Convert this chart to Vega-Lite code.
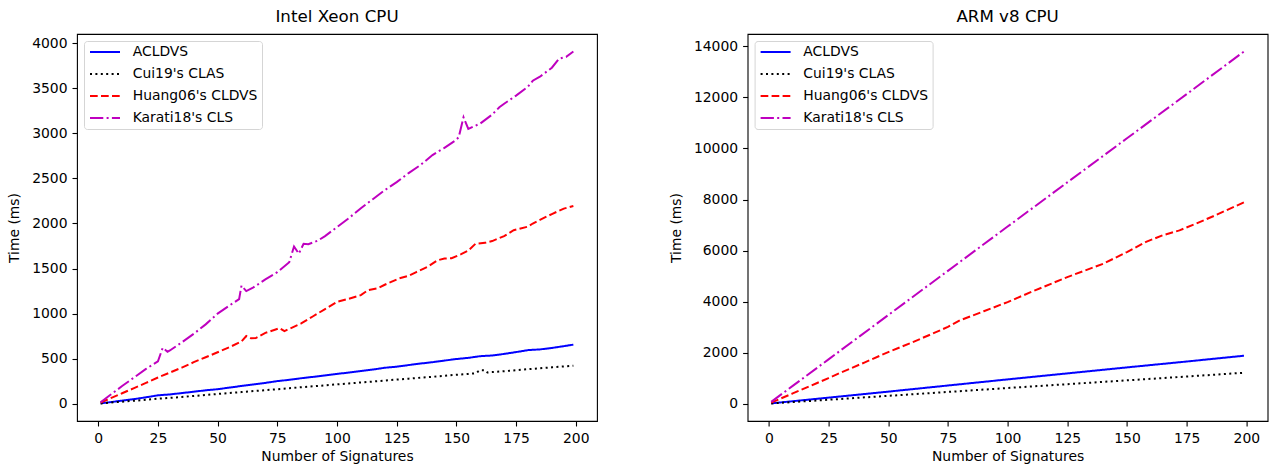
{
"$schema": "https://vega.github.io/schema/vega-lite/v6.json",
"background": "white",
"padding": {"left": 7, "top": 8, "right": 0, "bottom": 0},
"config": {
 "font": "DejaVu Sans",
 "view": {"stroke": "#000", "strokeWidth": 1.1},
 "axis": {"domain": false, "grid": false, "format": "d", "tickColor": "#000", "tickWidth": 1.1, "tickSize": 5, "labelFontSize": 13.9, "labelColor": "#000", "labelPadding": 5, "titleFontSize": 13.9, "titleFontWeight": "normal", "titleColor": "#000", "labelFont": "DejaVu Sans", "titleFont": "DejaVu Sans"},
 "axisY": {"titlePadding": 10},
 "axisX": {"titlePadding": 5},
 "title": {"fontSize": 16.7, "fontWeight": "normal", "color": "#000", "font": "DejaVu Sans", "offset": 8, "anchor": "middle", "baseline": "alphabetic"},
 "legend": {"title": null, "orient": "top-left", "offset": 7, "padding": 4, "symbolType": "M-0.833,0H4.167", "symbolSize": 144, "symbolStrokeWidth": 2, "symbolFillColor": "transparent", "labelFontSize": 13.9, "labelFont": "DejaVu Sans", "labelColor": "#000", "labelOffset": 30.7, "rowPadding": 8, "fillColor": "rgba(255,255,255,0.8)", "strokeColor": "#d5d5d5", "cornerRadius": 3, "labelLimit": 300}
},
"resolve": {"scale": {"color": "independent", "strokeDash": "independent"}, "legend": {"color": "independent", "strokeDash": "independent"}},
"spacing": 150.6,
"bounds": "flush",
"datasets": {
 "intel": [
  {"s":"ACLDVS","n":1,"t":3},{"s":"ACLDVS","n":5,"t":16},{"s":"ACLDVS","n":10,"t":33},{"s":"ACLDVS","n":15,"t":50},{"s":"ACLDVS","n":20,"t":70},{"s":"ACLDVS","n":25,"t":92},{"s":"ACLDVS","n":30,"t":102},{"s":"ACLDVS","n":35,"t":117},{"s":"ACLDVS","n":40,"t":132},{"s":"ACLDVS","n":45,"t":148},{"s":"ACLDVS","n":50,"t":160},{"s":"ACLDVS","n":55,"t":178},{"s":"ACLDVS","n":60,"t":196},{"s":"ACLDVS","n":65,"t":213},{"s":"ACLDVS","n":70,"t":230},{"s":"ACLDVS","n":75,"t":250},{"s":"ACLDVS","n":80,"t":264},{"s":"ACLDVS","n":85,"t":282},{"s":"ACLDVS","n":90,"t":297},{"s":"ACLDVS","n":95,"t":313},{"s":"ACLDVS","n":100,"t":330},{"s":"ACLDVS","n":105,"t":345},{"s":"ACLDVS","n":110,"t":362},{"s":"ACLDVS","n":115,"t":378},{"s":"ACLDVS","n":120,"t":398},{"s":"ACLDVS","n":125,"t":410},{"s":"ACLDVS","n":130,"t":428},{"s":"ACLDVS","n":135,"t":445},{"s":"ACLDVS","n":140,"t":460},{"s":"ACLDVS","n":145,"t":478},{"s":"ACLDVS","n":150,"t":495},{"s":"ACLDVS","n":155,"t":508},{"s":"ACLDVS","n":160,"t":527},{"s":"ACLDVS","n":165,"t":534},{"s":"ACLDVS","n":170,"t":552},{"s":"ACLDVS","n":175,"t":572},{"s":"ACLDVS","n":180,"t":594},{"s":"ACLDVS","n":185,"t":602},{"s":"ACLDVS","n":190,"t":618},{"s":"ACLDVS","n":195,"t":638},{"s":"ACLDVS","n":199,"t":655},
  {"s":"Cui19's CLAS","n":1,"t":2},{"s":"Cui19's CLAS","n":5,"t":11},{"s":"Cui19's CLAS","n":10,"t":22},{"s":"Cui19's CLAS","n":15,"t":32},{"s":"Cui19's CLAS","n":20,"t":43},{"s":"Cui19's CLAS","n":25,"t":55},{"s":"Cui19's CLAS","n":30,"t":64},{"s":"Cui19's CLAS","n":35,"t":74},{"s":"Cui19's CLAS","n":40,"t":85},{"s":"Cui19's CLAS","n":45,"t":96},{"s":"Cui19's CLAS","n":50,"t":107},{"s":"Cui19's CLAS","n":55,"t":118},{"s":"Cui19's CLAS","n":60,"t":128},{"s":"Cui19's CLAS","n":65,"t":139},{"s":"Cui19's CLAS","n":70,"t":150},{"s":"Cui19's CLAS","n":75,"t":160},{"s":"Cui19's CLAS","n":80,"t":171},{"s":"Cui19's CLAS","n":85,"t":182},{"s":"Cui19's CLAS","n":90,"t":192},{"s":"Cui19's CLAS","n":95,"t":203},{"s":"Cui19's CLAS","n":100,"t":214},{"s":"Cui19's CLAS","n":105,"t":224},{"s":"Cui19's CLAS","n":110,"t":235},{"s":"Cui19's CLAS","n":115,"t":245},{"s":"Cui19's CLAS","n":120,"t":256},{"s":"Cui19's CLAS","n":125,"t":267},{"s":"Cui19's CLAS","n":130,"t":277},{"s":"Cui19's CLAS","n":135,"t":288},{"s":"Cui19's CLAS","n":140,"t":298},{"s":"Cui19's CLAS","n":145,"t":309},{"s":"Cui19's CLAS","n":150,"t":320},{"s":"Cui19's CLAS","n":155,"t":330},{"s":"Cui19's CLAS","n":158,"t":337},{"s":"Cui19's CLAS","n":160,"t":372},{"s":"Cui19's CLAS","n":162,"t":370},{"s":"Cui19's CLAS","n":163,"t":346},{"s":"Cui19's CLAS","n":165,"t":350},{"s":"Cui19's CLAS","n":170,"t":360},{"s":"Cui19's CLAS","n":175,"t":371},{"s":"Cui19's CLAS","n":180,"t":382},{"s":"Cui19's CLAS","n":185,"t":392},{"s":"Cui19's CLAS","n":190,"t":403},{"s":"Cui19's CLAS","n":195,"t":413},{"s":"Cui19's CLAS","n":199,"t":420},
  {"s":"Huang06's CLDVS","n":1,"t":12},{"s":"Huang06's CLDVS","n":5,"t":58},{"s":"Huang06's CLDVS","n":10,"t":115},{"s":"Huang06's CLDVS","n":15,"t":172},{"s":"Huang06's CLDVS","n":20,"t":230},{"s":"Huang06's CLDVS","n":25,"t":290},{"s":"Huang06's CLDVS","n":30,"t":345},{"s":"Huang06's CLDVS","n":35,"t":400},{"s":"Huang06's CLDVS","n":40,"t":460},{"s":"Huang06's CLDVS","n":45,"t":515},{"s":"Huang06's CLDVS","n":50,"t":570},{"s":"Huang06's CLDVS","n":55,"t":627},{"s":"Huang06's CLDVS","n":60,"t":690},{"s":"Huang06's CLDVS","n":62,"t":750},{"s":"Huang06's CLDVS","n":64,"t":725},{"s":"Huang06's CLDVS","n":66,"t":728},{"s":"Huang06's CLDVS","n":70,"t":785},{"s":"Huang06's CLDVS","n":74,"t":820},{"s":"Huang06's CLDVS","n":76,"t":838},{"s":"Huang06's CLDVS","n":78,"t":805},{"s":"Huang06's CLDVS","n":80,"t":830},{"s":"Huang06's CLDVS","n":85,"t":890},{"s":"Huang06's CLDVS","n":90,"t":970},{"s":"Huang06's CLDVS","n":95,"t":1050},{"s":"Huang06's CLDVS","n":100,"t":1130},{"s":"Huang06's CLDVS","n":105,"t":1165},{"s":"Huang06's CLDVS","n":110,"t":1205},{"s":"Huang06's CLDVS","n":113,"t":1260},{"s":"Huang06's CLDVS","n":117,"t":1280},{"s":"Huang06's CLDVS","n":120,"t":1320},{"s":"Huang06's CLDVS","n":126,"t":1390},{"s":"Huang06's CLDVS","n":130,"t":1420},{"s":"Huang06's CLDVS","n":133,"t":1458},{"s":"Huang06's CLDVS","n":138,"t":1520},{"s":"Huang06's CLDVS","n":142,"t":1590},{"s":"Huang06's CLDVS","n":145,"t":1612},{"s":"Huang06's CLDVS","n":148,"t":1614},{"s":"Huang06's CLDVS","n":152,"t":1660},{"s":"Huang06's CLDVS","n":155,"t":1700},{"s":"Huang06's CLDVS","n":158,"t":1775},{"s":"Huang06's CLDVS","n":162,"t":1785},{"s":"Huang06's CLDVS","n":165,"t":1805},{"s":"Huang06's CLDVS","n":170,"t":1860},{"s":"Huang06's CLDVS","n":174,"t":1925},{"s":"Huang06's CLDVS","n":180,"t":1965},{"s":"Huang06's CLDVS","n":182,"t":2000},{"s":"Huang06's CLDVS","n":185,"t":2040},{"s":"Huang06's CLDVS","n":190,"t":2105},{"s":"Huang06's CLDVS","n":195,"t":2165},{"s":"Huang06's CLDVS","n":199,"t":2195},
  {"s":"Karati18's CLS","n":1,"t":15},{"s":"Karati18's CLS","n":5,"t":95},{"s":"Karati18's CLS","n":10,"t":195},{"s":"Karati18's CLS","n":15,"t":290},{"s":"Karati18's CLS","n":20,"t":385},{"s":"Karati18's CLS","n":25,"t":470},{"s":"Karati18's CLS","n":27,"t":620},{"s":"Karati18's CLS","n":29,"t":575},{"s":"Karati18's CLS","n":30,"t":590},{"s":"Karati18's CLS","n":35,"t":680},{"s":"Karati18's CLS","n":40,"t":775},{"s":"Karati18's CLS","n":45,"t":880},{"s":"Karati18's CLS","n":50,"t":1000},{"s":"Karati18's CLS","n":55,"t":1090},{"s":"Karati18's CLS","n":59,"t":1160},{"s":"Karati18's CLS","n":60,"t":1310},{"s":"Karati18's CLS","n":62,"t":1250},{"s":"Karati18's CLS","n":65,"t":1290},{"s":"Karati18's CLS","n":70,"t":1380},{"s":"Karati18's CLS","n":75,"t":1460},{"s":"Karati18's CLS","n":80,"t":1570},{"s":"Karati18's CLS","n":82,"t":1745},{"s":"Karati18's CLS","n":84,"t":1665},{"s":"Karati18's CLS","n":86,"t":1775},{"s":"Karati18's CLS","n":88,"t":1770},{"s":"Karati18's CLS","n":92,"t":1810},{"s":"Karati18's CLS","n":95,"t":1860},{"s":"Karati18's CLS","n":100,"t":1960},{"s":"Karati18's CLS","n":105,"t":2060},{"s":"Karati18's CLS","n":110,"t":2170},{"s":"Karati18's CLS","n":115,"t":2270},{"s":"Karati18's CLS","n":120,"t":2370},{"s":"Karati18's CLS","n":125,"t":2460},{"s":"Karati18's CLS","n":130,"t":2560},{"s":"Karati18's CLS","n":135,"t":2650},{"s":"Karati18's CLS","n":140,"t":2760},{"s":"Karati18's CLS","n":145,"t":2840},{"s":"Karati18's CLS","n":150,"t":2930},{"s":"Karati18's CLS","n":151,"t":2960},{"s":"Karati18's CLS","n":153,"t":3180},{"s":"Karati18's CLS","n":155,"t":3050},{"s":"Karati18's CLS","n":160,"t":3110},{"s":"Karati18's CLS","n":165,"t":3210},{"s":"Karati18's CLS","n":168,"t":3290},{"s":"Karati18's CLS","n":170,"t":3330},{"s":"Karati18's CLS","n":175,"t":3420},{"s":"Karati18's CLS","n":180,"t":3520},{"s":"Karati18's CLS","n":182,"t":3585},{"s":"Karati18's CLS","n":185,"t":3630},{"s":"Karati18's CLS","n":190,"t":3730},{"s":"Karati18's CLS","n":193,"t":3830},{"s":"Karati18's CLS","n":196,"t":3850},{"s":"Karati18's CLS","n":199,"t":3910}
 ],
 "arm": [
  {"s":"ACLDVS","n":1,"t":10},{"s":"ACLDVS","n":25,"t":235},{"s":"ACLDVS","n":50,"t":470},{"s":"ACLDVS","n":75,"t":710},{"s":"ACLDVS","n":100,"t":950},{"s":"ACLDVS","n":125,"t":1185},{"s":"ACLDVS","n":150,"t":1420},{"s":"ACLDVS","n":175,"t":1650},{"s":"ACLDVS","n":199,"t":1877},
  {"s":"Cui19's CLAS","n":1,"t":7},{"s":"Cui19's CLAS","n":25,"t":152},{"s":"Cui19's CLAS","n":50,"t":305},{"s":"Cui19's CLAS","n":75,"t":458},{"s":"Cui19's CLAS","n":100,"t":612},{"s":"Cui19's CLAS","n":125,"t":762},{"s":"Cui19's CLAS","n":150,"t":912},{"s":"Cui19's CLAS","n":175,"t":1062},{"s":"Cui19's CLAS","n":199,"t":1210},
  {"s":"Huang06's CLDVS","n":1,"t":40},{"s":"Huang06's CLDVS","n":10,"t":400},{"s":"Huang06's CLDVS","n":20,"t":800},{"s":"Huang06's CLDVS","n":25,"t":1000},{"s":"Huang06's CLDVS","n":30,"t":1210},{"s":"Huang06's CLDVS","n":40,"t":1610},{"s":"Huang06's CLDVS","n":50,"t":2020},{"s":"Huang06's CLDVS","n":60,"t":2400},{"s":"Huang06's CLDVS","n":65,"t":2600},{"s":"Huang06's CLDVS","n":70,"t":2800},{"s":"Huang06's CLDVS","n":75,"t":3010},{"s":"Huang06's CLDVS","n":80,"t":3260},{"s":"Huang06's CLDVS","n":90,"t":3620},{"s":"Huang06's CLDVS","n":100,"t":3980},{"s":"Huang06's CLDVS","n":110,"t":4380},{"s":"Huang06's CLDVS","n":125,"t":4960},{"s":"Huang06's CLDVS","n":140,"t":5480},{"s":"Huang06's CLDVS","n":150,"t":5940},{"s":"Huang06's CLDVS","n":158,"t":6340},{"s":"Huang06's CLDVS","n":165,"t":6600},{"s":"Huang06's CLDVS","n":172,"t":6790},{"s":"Huang06's CLDVS","n":178,"t":7020},{"s":"Huang06's CLDVS","n":187,"t":7380},{"s":"Huang06's CLDVS","n":199,"t":7890},
  {"s":"Karati18's CLS","n":1,"t":70},{"s":"Karati18's CLS","n":10,"t":695},{"s":"Karati18's CLS","n":25,"t":1735},{"s":"Karati18's CLS","n":50,"t":3470},{"s":"Karati18's CLS","n":75,"t":5205},{"s":"Karati18's CLS","n":100,"t":6940},{"s":"Karati18's CLS","n":125,"t":8670},{"s":"Karati18's CLS","n":150,"t":10400},{"s":"Karati18's CLS","n":175,"t":12130},{"s":"Karati18's CLS","n":199,"t":13800}
 ]
},
"hconcat": [
 {
  "title": "Intel Xeon CPU",
  "width": 520, "height": 387,
  "data": {"name": "intel"},
  "mark": {"type": "line", "strokeWidth": 2},
  "encoding": {
   "x": {"field": "n", "type": "quantitative", "scale": {"domain": [-8.9, 208.9], "nice": false, "zero": false}, "axis": {"values": [0,25,50,75,100,125,150,175,200], "title": "Number of Signatures"}},
   "y": {"field": "t", "type": "quantitative", "scale": {"domain": [-193, 4104], "nice": false, "zero": false}, "axis": {"values": [0,500,1000,1500,2000,2500,3000,3500,4000], "title": "Time (ms)"}},
   "color": {"field": "s", "type": "nominal", "scale": {"domain": ["ACLDVS","Cui19's CLAS","Huang06's CLDVS","Karati18's CLS"], "range": ["#0000ff","#000000","#ff0000","#bf00bf"]}, "legend": {"title": null}},
   "strokeDash": {"field": "s", "type": "nominal", "scale": {"domain": ["ACLDVS","Cui19's CLAS","Huang06's CLDVS","Karati18's CLS"], "range": [[1,0],[2,3.4],[7.7,3.3],[13.3,3.3,2,3.3]]}, "legend": {"title": null}}
  }
 },
 {
  "title": "ARM v8 CPU",
  "width": 520, "height": 387,
  "data": {"name": "arm"},
  "mark": {"type": "line", "strokeWidth": 2},
  "encoding": {
   "x": {"field": "n", "type": "quantitative", "scale": {"domain": [-8.9, 208.9], "nice": false, "zero": false}, "axis": {"values": [0,25,50,75,100,125,150,175,200], "title": "Number of Signatures"}},
   "y": {"field": "t", "type": "quantitative", "scale": {"domain": [-681, 14487], "nice": false, "zero": false}, "axis": {"values": [0,2000,4000,6000,8000,10000,12000,14000], "title": "Time (ms)"}},
   "color": {"field": "s", "type": "nominal", "scale": {"domain": ["ACLDVS","Cui19's CLAS","Huang06's CLDVS","Karati18's CLS"], "range": ["#0000ff","#000000","#ff0000","#bf00bf"]}, "legend": {"title": null}},
   "strokeDash": {"field": "s", "type": "nominal", "scale": {"domain": ["ACLDVS","Cui19's CLAS","Huang06's CLDVS","Karati18's CLS"], "range": [[1,0],[2,3.4],[7.7,3.3],[13.3,3.3,2,3.3]]}, "legend": {"title": null}}
  }
 }
]
}
